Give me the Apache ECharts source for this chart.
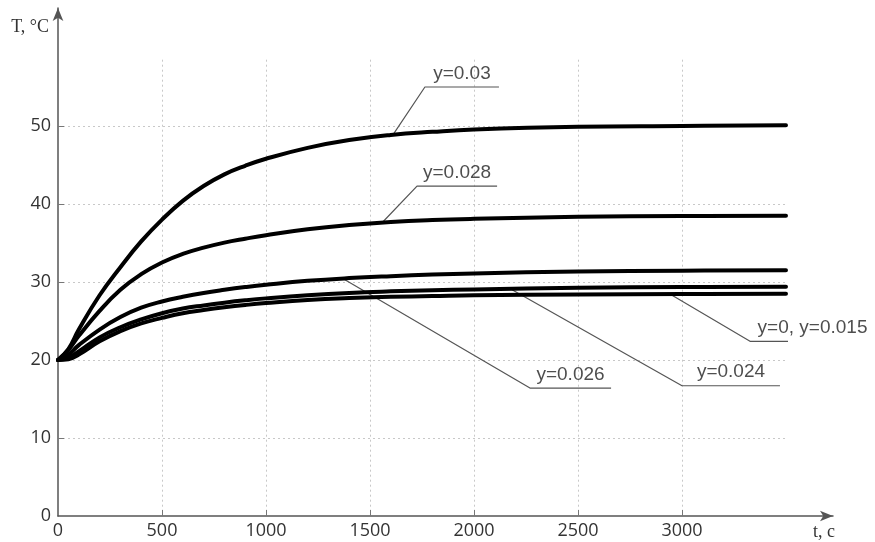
<!DOCTYPE html>
<html>
<head>
<meta charset="utf-8">
<script src="https://cdn.jsdelivr.net/npm/echarts@6/dist/echarts.min.js"></script>
<style>
html,body{margin:0;padding:0;background:#fff;}
#chart{width:875px;height:542px;}
</style>
</head>
<body>
<div id="chart"></div>
<script>
// ---- data ----
const times = [0, 50, 100, 200, 300, 400, 500, 600, 700, 800, 900, 1000, 1200, 1400, 1600, 1800, 2000, 2500, 3000, 3500];
const seriesY030 = [20, 21.4, 23.9, 28.3, 31.9, 35.2, 38.0, 40.4, 42.3, 43.8, 44.9, 45.8, 47.2, 48.2, 48.85, 49.25, 49.55, 49.9, 50.0, 50.1];
const seriesY028 = [20, 21.3, 23.1, 26.3, 29.0, 31.0, 32.5, 33.6, 34.4, 35.05, 35.55, 36.0, 36.75, 37.3, 37.7, 37.95, 38.1, 38.35, 38.45, 38.5];
const seriesY026 = [20, 20.7, 21.9, 23.9, 25.5, 26.7, 27.5, 28.1, 28.6, 29.0, 29.35, 29.65, 30.15, 30.5, 30.75, 30.95, 31.1, 31.35, 31.45, 31.5];
const seriesY024 = [20, 20.3, 21.1, 22.9, 24.2, 25.2, 26.0, 26.6, 27.0, 27.35, 27.65, 27.9, 28.3, 28.6, 28.8, 28.95, 29.05, 29.25, 29.35, 29.4];
const seriesY000 = [20, 20.1, 20.7, 22.4, 23.7, 24.7, 25.4, 26.0, 26.4, 26.75, 27.05, 27.3, 27.7, 27.95, 28.1, 28.2, 28.3, 28.4, 28.45, 28.5];

const xTicks = [0, 500, 1000, 1500, 2000, 2500, 3000];
const yTicks = [0, 10, 20, 30, 40, 50];

// annotation leaders (data units: t, T)
const annoNames = ['y=0.03', 'y=0.028', 'y=0.026', 'y=0.024', 'y=0, y=0.015'];
const annoStart = [[1611, 48.9], [1558, 37.6], [1365, 30.5], [2183, 29.0], [2952, 28.3]];
const annoElbow = [[1764, 55.0], [1726, 42.3], [2269, 16.4], [3000, 16.7], [3327, 22.4]];
const annoEnd   = [[2120, 55.0], [2111, 42.3], [2659, 16.4], [3471, 16.7], [3928, 22.4]];

// ---- build ----
const curves = [seriesY030, seriesY028, seriesY026, seriesY024, seriesY000];
const curveNames = ['y=0.03', 'y=0.028', 'y=0.026', 'y=0.024', 'y=0, y=0.015'];

const chart = echarts.init(document.getElementById('chart'), null, {renderer: 'canvas'});

const series = [];
curves.forEach((vals, i) => {
  series.push({
    name: curveNames[i],
    type: 'line',
    xAxisIndex: 0, yAxisIndex: 0,
    data: times.map((t, k) => [t, vals[k]]),
    smooth: 0.45,
    symbol: 'none',
    lineStyle: {color: '#000', width: 4, cap: 'round', join: 'round'},
    silent: true,
    z: 5
  });
});
annoNames.forEach((nm, i) => {
  series.push({
    type: 'line',
    xAxisIndex: 0, yAxisIndex: 0,
    data: [annoStart[i], annoElbow[i], annoEnd[i]],
    symbol: 'none',
    clip: false,
    lineStyle: {color: '#555', width: 1.2},
    silent: true,
    z: 3
  });
});
series.push({
  type: 'scatter',
  xAxisIndex: 0, yAxisIndex: 0,
  clip: false,
  symbolSize: 0,
  silent: true,
  data: annoNames.map((nm, i) => ({
    name: nm,
    value: [(annoElbow[i][0] + annoEnd[i][0]) / 2, annoElbow[i][1]]
  })),
  label: {
    show: true,
    position: 'top',
    distance: 4,
    formatter: p => p.name,
    color: '#222',
    fontSize: 19,
    fontFamily: 'Liberation Sans, Arial, sans-serif'
  },
  z: 6
});

const labelFont = {color: '#333', fontSize: 18, fontFamily: 'Open Sans, sans-serif'};
const plain = v => String(v);

chart.setOption({
  animation: false,
  backgroundColor: '#fff',
  grid: [
    {left: 58, right: 89, top: 59.7, bottom: 26, containLabel: false},
    {left: 58, right: 42, top: 8, bottom: 26, containLabel: false}
  ],
  xAxis: [
    {
      type: 'value', gridIndex: 0, min: 0, max: 3500, interval: 500,
      axisLine: {show: false},
      axisTick: {show: true, inside: true, length: 6, customValues: xTicks.slice(1), lineStyle: {color: '#777'}},
      axisLabel: Object.assign({margin: 6, customValues: xTicks, formatter: plain}, labelFont),
      splitLine: {show: true, lineStyle: {color: '#c8c8c8', type: [2, 3], width: 1}}
    },
    {
      type: 'value', gridIndex: 1, min: 0, max: 3726,
      axisLine: {show: true, symbol: ['none', 'arrow'], symbolSize: [8, 13], lineStyle: {color: '#555', width: 1.5}},
      axisTick: {show: false}, axisLabel: {show: false}, splitLine: {show: false},
      name: 't, c', nameLocation: 'end', nameGap: -20,
      nameTextStyle: {color: '#333', fontSize: 18, fontFamily: 'Liberation Serif, Times New Roman, serif', align: 'left', verticalAlign: 'top', padding: [7, 0, 0, 0]}
    }
  ],
  yAxis: [
    {
      type: 'value', gridIndex: 0, min: 0, max: 58.5, interval: 10,
      axisLine: {show: false},
      axisTick: {show: true, inside: true, length: 6, customValues: yTicks.slice(1), lineStyle: {color: '#777'}},
      axisLabel: Object.assign({margin: 7, customValues: yTicks, formatter: plain}, labelFont),
      splitLine: {show: true, lineStyle: {color: '#c8c8c8', type: [2, 3], width: 1}}
    },
    {
      type: 'value', gridIndex: 1, min: 0, max: 65.1,
      axisLine: {show: true, symbol: ['none', 'arrow'], symbolSize: [8, 13], lineStyle: {color: '#555', width: 1.5}},
      axisTick: {show: false}, axisLabel: {show: false}, splitLine: {show: false},
      name: 'T, °C', nameLocation: 'end', nameGap: -19,
      nameTextStyle: {color: '#333', fontSize: 18, fontFamily: 'Liberation Serif, Times New Roman, serif', align: 'right', verticalAlign: 'middle', padding: [0, 9, 0, 0]}
    }
  ],
  series: series
});
</script>
</body>
</html>
